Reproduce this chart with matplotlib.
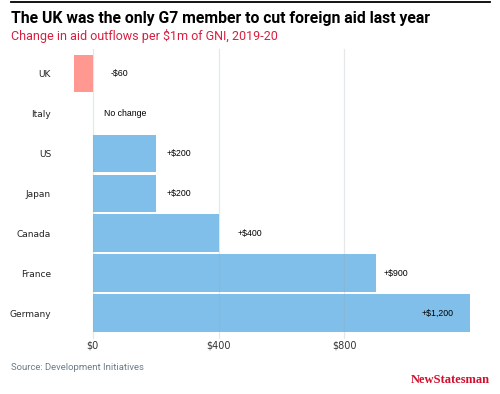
import numpy as np
import matplotlib.pyplot as plt

# data
countries = ['UK', 'Italy', 'US', 'Japan', 'Canada', 'France', 'Germany']
change = [-60, 0, 200, 200, 400, 900, 1200]
labels = ['-$60', 'No change', '+$200', '+$200', '+$400', '+$900', '+$1,200']
ticks = [0, 400, 800]
tick_labels = ['$0', '$400', '$800']

blue = '#80bfea'
red = '#ff9891'

fig = plt.figure(figsize=(5, 3.94), dpi=100)
W, H = 500, 394

# axes placed in pixel terms
left, right, top, bottom = 74, 470, 52, 335
ax = fig.add_axes([left / W, 1 - bottom / H, (right - left) / W, (bottom - top) / H])

y = np.arange(len(countries))
colors = [red if v < 0 else blue for v in change]
ax.barh(y, change, height=0.93, color=colors, zorder=1)

ax.set_xlim(-60, 1200)
ax.set_ylim(6.55, -0.53)

# faint vertical grid, drawn over the bars
for t in ticks:
    ax.axvline(t, color='#9aa4ad', alpha=0.25, lw=0.9, zorder=2,
               ymin=-0.01, ymax=1.01, clip_on=False)

ax.set_xticks(ticks)
ax.set_xticklabels(tick_labels, fontsize=7, color='#333333')
ax.set_yticks(y)
ax.set_yticklabels(countries, fontsize=6.5, color='#222222', ha='right')
ax.tick_params(axis='y', length=0, pad=16.5)
ax.tick_params(axis='x', length=0, pad=4)
for s in ax.spines.values():
    s.set_visible(False)

# value labels, offsets in points from the bar end
offsets = [13, 8, 8, 8, 14, 6, -11.5]
for i, (v, lab, off) in enumerate(zip(change, labels, offsets)):
    base = max(v, 0)
    ha = 'right' if off < 0 else 'left'
    ax.annotate(lab, xy=(base, i), xytext=(off, 0), textcoords='offset points',
                ha=ha, va='center', fontsize=6.3, color='#000000', zorder=3,
                family='Liberation Sans')

# top rule, title, subtitle
fig.add_artist(plt.Line2D([11 / W, 490 / W], [1 - 1.5 / H, 1 - 1.5 / H],
                          color='black', lw=1.3))
fig.text(11 / W, 1 - 23 / H, 'The UK was the only G7 member to cut foreign aid last year',
         fontsize=11.3, fontweight='bold', color='black', family='Roboto')
fig.text(11 / W, 1 - 40 / H, 'Change in aid outflows per $1m of GNI, 2019-20',
         fontsize=9, color='#d81e3f', family='Roboto')

fig.text(11 / W, 1 - 370 / H, 'Source: Development Initiatives',
         fontsize=6.8, color='#6b7c8c', family='Roboto')
fig.text(490 / W, 1 - 383 / H, 'NewStatesman', fontsize=9, color='#d0102e',
         fontweight='bold', family='Liberation Serif', ha='right')

fig.savefig('out.png', dpi=100)
